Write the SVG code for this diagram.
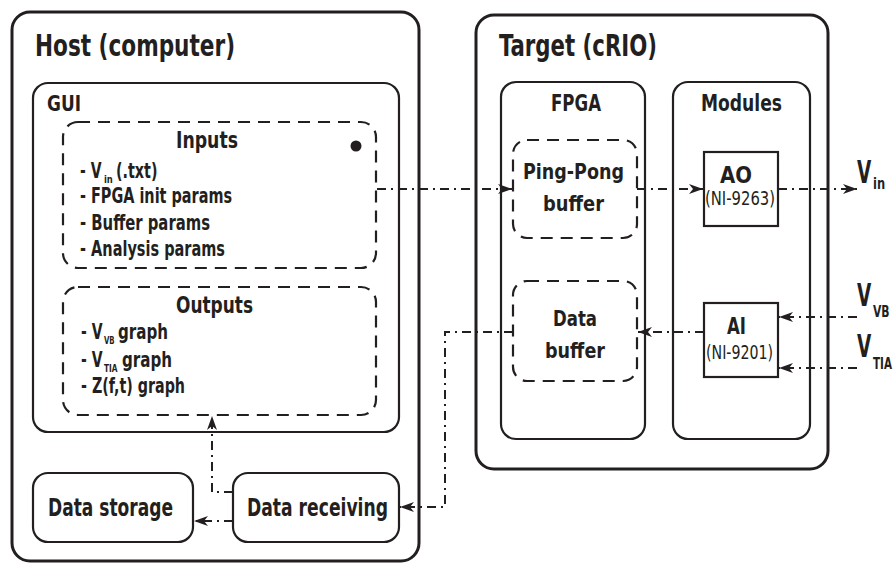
<svg xmlns="http://www.w3.org/2000/svg" width="896" height="564" viewBox="0 0 896 564">
  <style>
    .t { font-family: "DejaVu Sans Condensed", "DejaVu Sans", sans-serif; font-weight: bold; fill: #231f20; }
    .lt { font-family: "DejaVu Sans Condensed", "DejaVu Sans", sans-serif; font-weight: normal; fill: #231f20; }
    .outer { fill: none; stroke: #231f20; stroke-width: 3; }
    .box { fill: none; stroke: #231f20; stroke-width: 2.2; }
    .dash { fill: none; stroke: #231f20; stroke-width: 2.2; stroke-dasharray: 12 8; }
    .wire { fill: none; stroke: #231f20; stroke-width: 2; stroke-dasharray: 9 5 2 5; marker-end: url(#arrow); }
  </style>
  <defs>
    <marker id="arrow" markerUnits="userSpaceOnUse" markerWidth="15" markerHeight="12" refX="14" refY="6" orient="auto">
      <path d="M0,1 L14,6 L0,11 L4,6 Z" fill="#231f20"/>
    </marker>
  </defs>
  <rect width="896" height="564" fill="#ffffff"/>

  <!-- Host computer -->
  <g id="host">
    <rect class="outer" x="12" y="12" width="407" height="549" rx="18"/>
    <text class="t" x="35" y="56" font-size="30" textLength="200" lengthAdjust="spacingAndGlyphs">Host (computer)</text>
  </g>
  <g id="gui">
    <rect class="box" x="33" y="83" width="366" height="349" rx="15"/>
    <text class="t" x="47" y="111" font-size="21" textLength="34" lengthAdjust="spacingAndGlyphs">GUI</text>
  </g>
  <g id="inputs">
    <rect class="dash" x="63" y="122" width="313" height="146" rx="15"/>
    <text class="t" x="176" y="148" font-size="23" textLength="62" lengthAdjust="spacingAndGlyphs">Inputs</text>
    <circle cx="356" cy="146" r="5.5" fill="#231f20"/>
    <!-- subscripted entries are squeezed with a horizontal scale -->
    <text class="t" font-size="21" transform="translate(80,178) scale(0.74,1)">- V</text>
    <text class="t" font-size="11" transform="translate(104,183) scale(0.85,1)">in</text>
    <text class="t" font-size="21" transform="translate(116,178) scale(0.76,1)">(.txt)</text>
    <text class="t" x="80" y="203" font-size="21" textLength="152" lengthAdjust="spacingAndGlyphs">- FPGA init params</text>
    <text class="t" x="80" y="230" font-size="21" textLength="130" lengthAdjust="spacingAndGlyphs">- Buffer params</text>
    <text class="t" x="80" y="256" font-size="21" textLength="145" lengthAdjust="spacingAndGlyphs">- Analysis params</text>
  </g>
  <g id="outputs">
    <rect class="dash" x="63" y="287" width="313" height="128" rx="15"/>
    <text class="t" x="176" y="313" font-size="23" textLength="77" lengthAdjust="spacingAndGlyphs">Outputs</text>
    <text class="t" font-size="21" transform="translate(81,339) scale(0.74,1)">- V</text>
    <text class="t" font-size="11" transform="translate(104,344) scale(0.7,1)">VB</text>
    <text class="t" font-size="21" transform="translate(118,339) scale(0.8,1)">graph</text>
    <text class="t" font-size="21" transform="translate(81,367) scale(0.74,1)">- V</text>
    <text class="t" font-size="11" transform="translate(104,372) scale(0.75,1)">TIA</text>
    <text class="t" font-size="21" transform="translate(122,367) scale(0.8,1)">graph</text>
    <text class="t" x="81" y="393" font-size="21" textLength="104" lengthAdjust="spacingAndGlyphs">- Z(f,t) graph</text>
  </g>
  <g id="data-storage">
    <rect class="box" x="33" y="473" width="160" height="69" rx="15"/>
    <text class="t" x="48" y="516" font-size="24" textLength="125" lengthAdjust="spacingAndGlyphs">Data storage</text>
  </g>
  <g id="data-receiving">
    <rect class="box" x="233" y="473" width="166" height="69" rx="15"/>
    <text class="t" x="247" y="516" font-size="24" textLength="141" lengthAdjust="spacingAndGlyphs">Data receiving</text>
  </g>

  <!-- Target cRIO -->
  <g id="target">
    <rect class="outer" x="476" y="15" width="352" height="454" rx="18"/>
    <text class="t" x="499" y="56" font-size="30" textLength="158" lengthAdjust="spacingAndGlyphs">Target (cRIO)</text>
  </g>
  <g id="fpga">
    <rect class="box" x="501" y="82" width="144" height="357" rx="15"/>
    <text class="t" x="551" y="111" font-size="23" textLength="50" lengthAdjust="spacingAndGlyphs">FPGA</text>
  </g>
  <g id="modules">
    <rect class="box" x="673" y="82" width="137" height="357" rx="15"/>
    <text class="t" x="701" y="111" font-size="23" textLength="81" lengthAdjust="spacingAndGlyphs">Modules</text>
  </g>
  <g id="ping-pong-buffer">
    <rect class="dash" x="513" y="140" width="124" height="98" rx="14"/>
    <text class="t" x="523" y="179" font-size="22" textLength="101" lengthAdjust="spacingAndGlyphs">Ping-Pong</text>
    <text class="t" x="543" y="211" font-size="22" textLength="61" lengthAdjust="spacingAndGlyphs">buffer</text>
  </g>
  <g id="data-buffer">
    <rect class="dash" x="513" y="281" width="124" height="100" rx="14"/>
    <text class="t" x="553" y="326" font-size="22" textLength="44" lengthAdjust="spacingAndGlyphs">Data</text>
    <text class="t" x="545" y="358" font-size="22" textLength="60" lengthAdjust="spacingAndGlyphs">buffer</text>
  </g>
  <g id="ao">
    <rect class="box" x="704" y="152" width="74" height="74"/>
    <text class="t" x="720" y="183" font-size="23" textLength="32" lengthAdjust="spacingAndGlyphs">AO</text>
    <text class="lt" x="705" y="205" font-size="19" textLength="70" lengthAdjust="spacingAndGlyphs">(NI-9263)</text>
  </g>
  <g id="ai">
    <rect class="box" x="704" y="303" width="74" height="74"/>
    <text class="t" x="727" y="334" font-size="23" textLength="19" lengthAdjust="spacingAndGlyphs">AI</text>
    <text class="lt" x="706" y="359" font-size="19" textLength="67" lengthAdjust="spacingAndGlyphs">(NI-9201)</text>
  </g>

  <!-- Signal labels -->
  <g id="v-in">
    <text class="t" font-size="32" transform="translate(857,183) scale(0.64,1)">V</text>
    <text class="t" font-size="16" transform="translate(873,189) scale(0.8,1)">in</text>
  </g>
  <g id="v-vb">
    <text class="t" font-size="32" transform="translate(857,306) scale(0.64,1)">V</text>
    <text class="t" font-size="16" transform="translate(873,317) scale(0.75,1)">VB</text>
  </g>
  <g id="v-tia">
    <text class="t" font-size="32" transform="translate(857,357) scale(0.64,1)">V</text>
    <text class="t" font-size="16" transform="translate(873,369) scale(0.72,1)">TIA</text>
  </g>

  <!-- Connectors -->
  <g id="connectors">
    <path class="wire" d="M377,189 H512"/>
    <path class="wire" d="M637,189 H703"/>
    <path class="wire" d="M778,189 H857"/>
    <path class="wire" d="M857,317 H779"/>
    <path class="wire" d="M857,368 H779"/>
    <path class="wire" d="M704,332 H638"/>
    <path class="wire" d="M513,332 H445 V507 H400"/>
    <path class="wire" d="M233,492 H212 V416"/>
    <path class="wire" d="M233,521 H194"/>
  </g>
</svg>
